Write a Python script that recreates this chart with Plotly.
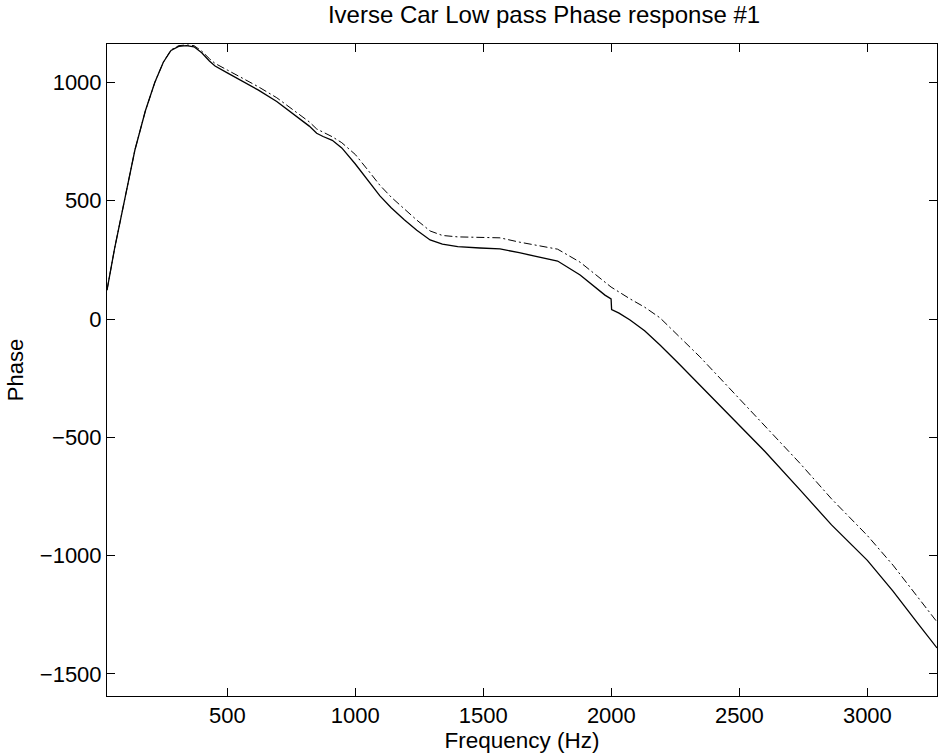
import plotly.graph_objects as go

# Frequency (Hz) and phase values
freq_solid = [30, 60, 100, 139, 180, 217, 250, 280, 310, 340, 370, 400, 430, 452, 500,
              561, 620, 693, 760, 820, 849, 874, 910, 947, 1000, 1050, 1096, 1140, 1190,
              1240, 1292, 1340, 1400, 1487, 1565, 1640, 1721, 1790, 1878, 1940, 1975, 1999,
              2001, 2030, 2073, 2130, 2190, 2260, 2346, 2420, 2503, 2600, 2737, 2860, 3000,
              3100, 3200, 3272]
phase_solid = [122, 300, 510, 714, 880, 1000, 1085, 1135, 1152, 1155, 1150, 1125, 1090, 1069, 1040,
               1004, 968, 919, 866, 815, 785, 771, 755, 723, 655, 585, 520, 470, 420,
               375, 334, 316, 306, 300, 296, 280, 262, 245, 186, 130, 101, 85,
               40, 25, -4, -50, -110, -185, -280, -360, -452, -560, -722, -870, -1020,
               -1150, -1290, -1390]

freq_dash = [30, 60, 100, 139, 180, 217, 250, 280, 310, 340, 370, 400, 430, 452, 500,
             561, 620, 693, 760, 820, 849, 874, 910, 947, 1000, 1050, 1096, 1140, 1190,
             1240, 1292, 1340, 1400, 1487, 1565, 1640, 1721, 1790, 1878, 1940, 1999,
             2073, 2130, 2190, 2260, 2346, 2420, 2503, 2600, 2737, 2860, 3000, 3100,
             3200, 3272]
phase_dash = [122, 300, 510, 714, 880, 1000, 1085, 1137, 1155, 1158, 1155, 1132, 1100, 1080, 1052,
              1018, 982, 935, 882, 833, 803, 790, 770, 745, 695, 628, 565, 515, 465,
              418, 372, 353, 347, 345, 343, 325, 310, 295, 240, 185, 135,
              85, 50, 5, -70, -160, -245, -340, -450, -610, -760, -915, -1040,
              -1180, -1280]

x_ticks = [500, 1000, 1500, 2000, 2500, 3000]
y_ticks = [-1500, -1000, -500, 0, 500, 1000]

title_text = "Iverse Car Low pass Phase response #1"
x_label = "Frequency (Hz)"
y_label = "Phase"

FONT = "Liberation Sans, Arial, Helvetica, sans-serif"

fig = go.Figure()
fig.add_trace(go.Scatter(x=freq_solid, y=phase_solid, mode="lines",
                         line=dict(color="black", width=1.3), showlegend=False))
fig.add_trace(go.Scatter(x=freq_dash, y=phase_dash, mode="lines",
                         line=dict(color="black", width=1.0, dash="8px,3px,2px,3px"),
                         showlegend=False))

axis_common = dict(showline=True, linecolor="black", linewidth=1, mirror="ticks",
                   ticks="inside", ticklen=8, tickcolor="black", tickwidth=1,
                   showgrid=False, zeroline=False,
                   tickfont=dict(family=FONT, size=22, color="black"))

fig.update_layout(
    width=938, height=755,
    margin=dict(l=107, r=1, t=44, b=59),
    paper_bgcolor="white", plot_bgcolor="white",
    font=dict(family=FONT, color="black"),
    title=dict(text=title_text, x=0.5265, xref="paper", xanchor="center",
               y=1 - 15 / 755, yref="container", yanchor="middle",
               font=dict(family=FONT, size=24, color="black")),
    xaxis=dict(range=[30, 3272], tickvals=x_ticks,
               title=dict(text=x_label, font=dict(family=FONT, size=22.5, color="black"), standoff=0),
               **axis_common),
    yaxis=dict(range=[-1593, 1162], tickvals=y_ticks,
               title=dict(text=y_label, font=dict(family=FONT, size=22, color="black"), standoff=10),
               **axis_common),
)

fig.write_html("out.html")
